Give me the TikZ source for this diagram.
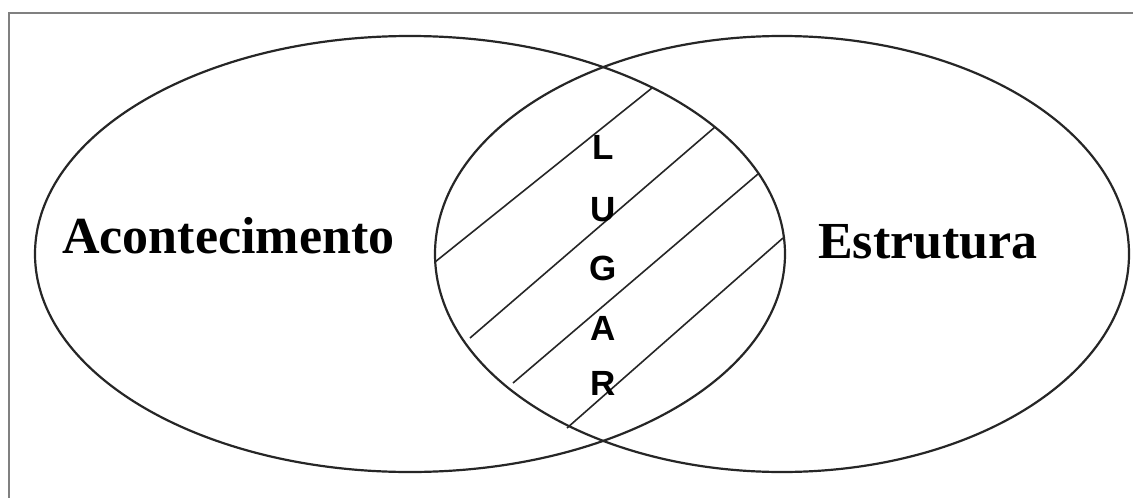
\documentclass[tikz,border=0pt]{standalone}
\usepackage{fontspec}
\setmainfont{Liberation Serif}
\newfontfamily\lsans{Liberation Sans}
\begin{document}
\begin{tikzpicture}[x=1pt,y=-1pt,
  frameline/.style={draw=black!50,line width=2pt},
  setline/.style={draw=black!85,line width=2.2pt},
  hatchline/.style={draw=black!85,line width=1.6pt},
  setlabel/.style={font=\fontsize{52}{60}\selectfont\bfseries,anchor=base west,inner sep=0pt},
  letter/.style={font=\lsans\fontsize{35}{40}\selectfont\bfseries,inner sep=0pt}]
\useasboundingbox (0,0) rectangle (1133,498);
\fill[white] (0,0) rectangle (1133,498);
\draw[frameline] (9,498) -- (9,12.5) -- (1133,12.5);
\draw[setline] (410,254) ellipse [x radius=375, y radius=218];
\draw[setline] (782,254) ellipse [x radius=347, y radius=218];
\draw[hatchline] (435,262) -- (652,88);
\draw[hatchline] (470,338) -- (715,127);
\draw[hatchline] (513,383) -- (758,174);
\draw[hatchline] (567,428) -- (783,238);
\node[setlabel] (acont) at (62,253) {Acontecimento};
\node[setlabel] (estr) at (818,258) {Estrutura};
\node[letter] (l1) at (603,147) {L};
\node[letter] (l2) at (603,210) {U};
\node[letter] (l3) at (603,268) {G};
\node[letter] (l4) at (603,328) {A};
\node[letter] (l5) at (603,383) {R};
\end{tikzpicture}
\end{document}
